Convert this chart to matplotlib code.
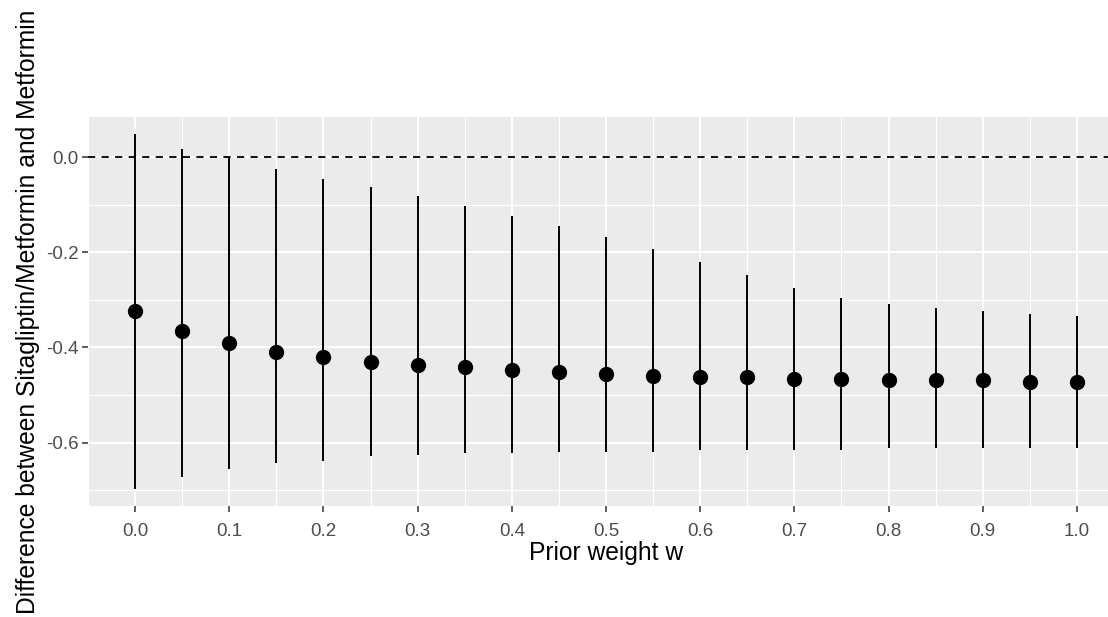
import numpy as np
import matplotlib
matplotlib.use("Agg")
import matplotlib.pyplot as plt
from matplotlib.ticker import MultipleLocator

plt.rcParams['font.family'] = ['Liberation Sans', 'DejaVu Sans']

# prior weight grid and posterior summaries of the treatment difference
weights = [0.0, 0.05, 0.1, 0.15, 0.2, 0.25, 0.3, 0.35, 0.4, 0.45, 0.5,
           0.55, 0.6, 0.65, 0.7, 0.75, 0.8, 0.85, 0.9, 0.95, 1.0]
estimate = [-0.324, -0.366, -0.391, -0.409, -0.420, -0.430, -0.437, -0.441,
            -0.448, -0.451, -0.455, -0.459, -0.462, -0.462, -0.466, -0.466,
            -0.469, -0.469, -0.469, -0.472, -0.472]
lower = [-0.698, -0.672, -0.655, -0.644, -0.638, -0.629, -0.626, -0.623,
         -0.622, -0.620, -0.620, -0.619, -0.616, -0.616, -0.616, -0.616,
         -0.611, -0.611, -0.611, -0.611, -0.611]
upper = [0.048, 0.018, 0.0, -0.024, -0.045, -0.063, -0.081, -0.102,
         -0.124, -0.145, -0.167, -0.192, -0.220, -0.248, -0.274, -0.295,
         -0.309, -0.316, -0.323, -0.330, -0.334]

W, H = 1108, 617
fig = plt.figure(figsize=(W / 100, H / 100), dpi=100)
left, right, top, bottom = 88, 1124, 117, 506
ax = fig.add_axes([left / W, 1 - bottom / H, (right - left) / W, (bottom - top) / H])

ax.set_facecolor('#EBEBEB')
for s in ax.spines.values():
    s.set_visible(False)

ax.xaxis.set_major_locator(MultipleLocator(0.1))
ax.xaxis.set_minor_locator(MultipleLocator(0.05))
ax.yaxis.set_major_locator(MultipleLocator(0.2))
ax.yaxis.set_minor_locator(MultipleLocator(0.1))
ax.grid(which='major', color='white', lw=1.4)
ax.grid(which='minor', color='white', lw=0.8)
ax.set_axisbelow(True)

ax.axhline(0, color='black', lw=1.3, ls=(0, (4, 3.5)), zorder=2)
ax.vlines(weights, lower, upper, color='black', lw=1.4, zorder=3)
ax.plot(weights, estimate, 'o', color='black', ms=10, zorder=4)

ax.set_xlim(-0.05, 1.05)
ax.set_ylim(-0.7335, 0.0848)
ax.set_xticklabels([f'{v:.1f}' for v in ax.get_xticks()])
ax.set_yticklabels([f'{v:.1f}' for v in ax.get_yticks()])

ax.tick_params(which='major', length=4, width=1.1, color='#333333',
               labelsize=13.5, labelcolor='#4D4D4D', pad=3)
ax.tick_params(axis='x', which='major', pad=8)
ax.tick_params(which='minor', length=0)

ax.set_xlabel('Prior weight w', fontsize=17.7, labelpad=1)
ax.set_ylabel('Difference between Sitagliptin/Metformin and Metformin',
              fontsize=17.7, labelpad=4)

fig.savefig('out.png', dpi=100)
